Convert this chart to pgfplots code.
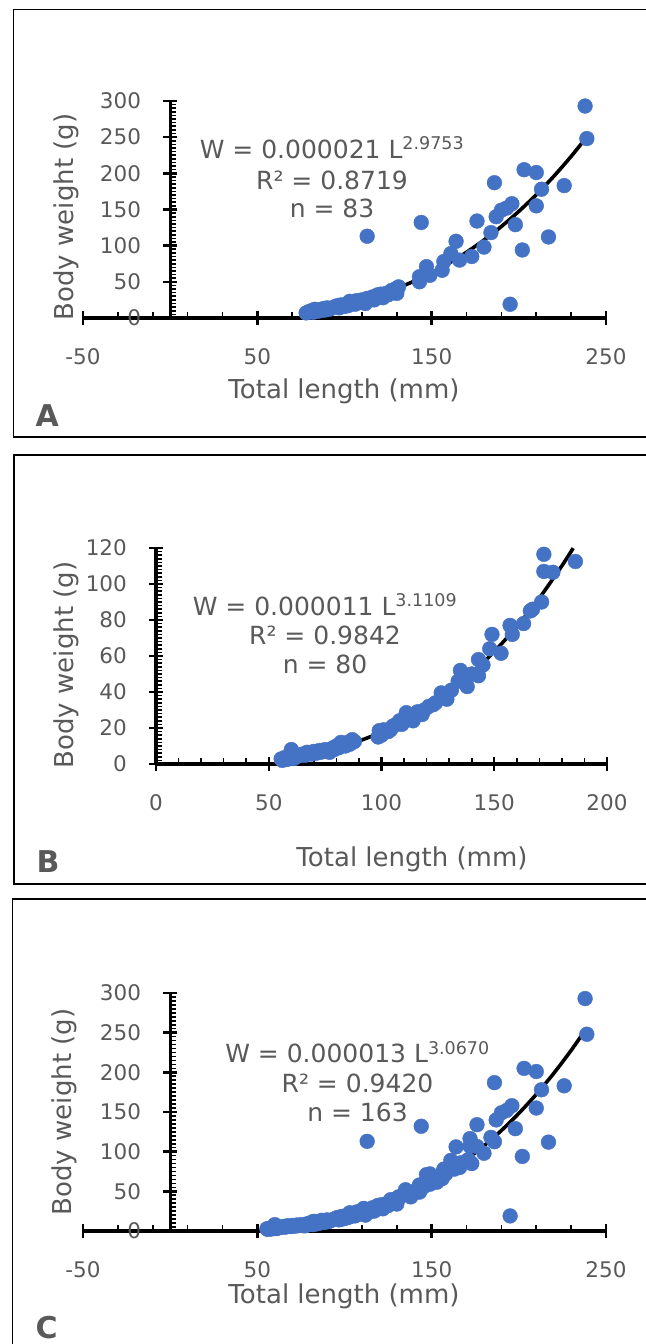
\documentclass[border=0pt]{standalone}
\usepackage{pgfplots}
\pgfplotsset{compat=1.18}
\usepackage{pgfplotstable}
\usepackage{fontspec}
\setmainfont{DejaVu Sans}

\definecolor{xlblue}{HTML}{4472C4}
\definecolor{txtgray}{HTML}{595959}

\newcommand\tickfont{\fontsize{21.5bp}{26bp}\selectfont}
\newcommand\labfont{\fontsize{26bp}{31bp}\selectfont}
\newcommand\eqfont{\fontsize{25bp}{30bp}\selectfont}
\newcommand\letfont{\fontsize{30bp}{36bp}\selectfont\bfseries}

% group A (n = 83)
\pgfplotstableread{
x y
238 293
239 248
203 205
210 201
226 183
186 187
213 178
196 158
193 152
190 149
187 140
210 155
198 129
176 134
184 118
217 112
202 94
195 19
144 132
113 113
164 106
180 98
173 85
166 80
161 89
156 66
157 78
147 71
143 50
143 57
149 59
131 43
130 34
126 36
119 32
112 20
113 27
103 23
100 16
96 17
88 13
83 12
78 7
79 8
80 9
81 10
82 8
84 9
85 11
86 10
87 12
89 11
90 14
91 12
92 13
94 15
95 16
97 14
98 18
99 17
101 19
102 17
104 20
105 22
106 19
107 24
108 21
109 23
110 25
111 22
114 27
115 26
116 29
117 25
118 30
120 31
121 33
122 28
124 34
125 32
127 38
128 35
129 40
}\dataA

% group B (n = 80)
\pgfplotstableread{
x y
172 116.5
172 107
176 106.5
186 112.5
171 90
166 85
163 78
157 77
158 72
149 72
148 64
153 61.5
143 58
143 49
135 52
134 46
138 43
140 50
129 36
126.5 39.5
123 33
118 27.5
112.5 25
111 28.5
106.5 22
104 19
99 18.5
98.5 15
87 13.5
86 11
82 12
78.5 9
77 6.5
72.5 7.5
67 6.5
60 8
61 3
55.5 2.8
56 2
57 3.5
58 2.5
59 4
61 5
62 4
63 4.5
64 5
65 5.5
66 4.8
68 6
69 5.5
70 7
71 6
73 6.5
74 7
75 8
76 7
79 8
80 10
81 9
83 11
84 10
85 12
88 12.5
100 16
101 19
103 18
105 21
108 24
109 22
113 27
114 24
116 29
119 30
121 32
124 34
127 37
131 41
136 47
145 55
167 86
}\dataB

\pgfplotsset{
  panel/.style={
    scale only axis,
    axis lines*=middle,
    enlargelimits=false,
    clip=false,
    axis line style={line width=3.3bp, black},
    tick align=center,
    major tick length=14bp,
    minor tick length=6bp,
    major tick style={line width=2.4bp, black},
    minor tick style={line width=1.6bp, black},
    minor x tick style={yshift=3bp},
    minor y tick style={xshift=3bp},
    hide obscured x ticks=false,
    hide obscured y ticks=false,
    tick label style={font=\tickfont, text=txtgray, inner sep=0pt},
    xticklabel style={anchor=center, yshift=-32bp},
    yticklabel style={anchor=east, xshift=-22bp},
  },
  pts/.style={only marks, mark=*, mark size=7.4bp,
    mark options={fill=xlblue, draw=xlblue, line width=0.4bp}},
  fit/.style={black, line width=3.6bp, smooth, no marks},
}

\begin{document}
\begin{tikzpicture}[x=1bp, y=1bp]
\useasboundingbox (0,0) rectangle (646,1344);
\clip (0,0) rectangle (646,1344);

% panel frames
\draw[line width=1.5bp, black] (13.5,907) rectangle (700,1334.5);
\draw[line width=1.5bp, black] (14,460) rectangle (700,889);
\draw[line width=1.5bp, black] (12.5,-50) rectangle (700,445);

% ---------- A ----------
\begin{axis}[panel, at={(83bp,1026bp)}, anchor=south west,
  width=523bp, height=217bp,
  xmin=-50, xmax=250, ymin=0, ymax=300,
  xtick={-50,50,150,250}, xticklabels={-50,50,150,250},
  ytick={0,50,100,150,200,250,300}, yticklabels={0,50,100,150,200,250,300},
  minor x tick num=4, minor y tick num=9]
  \addplot[pts] table[x=x, y=y] {\dataA};
  \addplot[fit] coordinates {
    (78,8.95) (90,13.70) (100,18.74) (110,24.89) (120,32.24) (130,40.91)
    (140,51.00) (150,62.63) (160,75.89) (170,90.89) (180,107.73)
    (190,126.53) (200,147.40) (210,170.43) (220,195.73) (230,223.39)
    (239,250.41)};
\end{axis}
\node[font=\eqfont, text=txtgray, anchor=base] at (332,1185.7) {W = 0.000021 L\textsuperscript{2.9753}};
\node[font=\eqfont, text=txtgray, anchor=base] at (332,1154.7) {R² = 0.8719};
\node[font=\eqfont, text=txtgray, anchor=base] at (332,1126.7) {n = 83};
\node[font=\labfont, text=txtgray, anchor=base] at (344,945) {Total length (mm)};
\node[font=\labfont, text=txtgray, rotate=90] at (66,1127) {Body weight (g)};
\node[font=\letfont, text=txtgray, anchor=base west, inner sep=0pt] at (35.5,917) {A};

% ---------- B ----------
\begin{axis}[panel, at={(156bp,580bp)}, anchor=south west,
  width=451bp, height=216bp,
  xmin=0, xmax=200, ymin=0, ymax=120,
  xtick={0,50,100,150,200}, xticklabels={0,50,100,150,200},
  ytick={0,20,40,60,80,100,120}, yticklabels={0,20,40,60,80,100,120},
  minor x tick num=4, minor y tick num=9]
  \addplot[pts] table[x=x, y=y] {\dataB};
  \addplot[fit] coordinates {
    (55,2.8) (60,3.61) (70,5.83) (80,8.84) (90,12.75) (100,17.69)
    (110,23.80) (120,31.19) (130,40.01) (140,50.39) (150,62.45)
    (160,76.34) (170,92.19) (180,110.12) (185,119.9)};
\end{axis}
\node[font=\eqfont, text=txtgray, anchor=base] at (325,728) {W = 0.000011 L\textsuperscript{3.1109}};
\node[font=\eqfont, text=txtgray, anchor=base] at (325,699) {R² = 0.9842};
\node[font=\eqfont, text=txtgray, anchor=base] at (325,670) {n = 80};
\node[font=\labfont, text=txtgray, anchor=base] at (412,477) {Total length (mm)};
\node[font=\labfont, text=txtgray, rotate=90] at (66,679) {Body weight (g)};
\node[font=\letfont, text=txtgray, anchor=base west, inner sep=0pt] at (36.5,471) {B};

% ---------- C ----------
\begin{axis}[panel, at={(83bp,113bp)}, anchor=south west,
  width=523bp, height=238bp,
  xmin=-50, xmax=250, ymin=0, ymax=300,
  xtick={-50,50,150,250}, xticklabels={-50,50,150,250},
  ytick={0,50,100,150,200,250,300}, yticklabels={0,50,100,150,200,250,300},
  minor x tick num=4, minor y tick num=9]
  \addplot[pts] table[x=x, y=y] {\dataA};
  \addplot[pts] table[x=x, y=y] {\dataB};
  \addplot[fit] coordinates {
    (55,2.83) (60,3.69) (70,5.93) (80,8.93) (90,12.81) (100,17.70)
    (110,23.71) (120,30.96) (130,39.57) (140,49.67) (150,61.38)
    (160,74.81) (170,90.10) (180,107.36) (190,126.72) (200,148.33)
    (210,172.26) (220,198.68) (230,227.70) (239,256.14)};
\end{axis}
\node[font=\eqfont, text=txtgray, anchor=base] at (357.5,281) {W = 0.000013 L\textsuperscript{3.0670}};
\node[font=\eqfont, text=txtgray, anchor=base] at (357.5,251) {R² = 0.9420};
\node[font=\eqfont, text=txtgray, anchor=base] at (357.5,222) {n = 163};
\node[font=\labfont, text=txtgray, anchor=base] at (344,40) {Total length (mm)};
\node[font=\labfont, text=txtgray, rotate=90] at (64,232) {Body weight (g)};
\node[font=\letfont, text=txtgray, anchor=base west, inner sep=0pt] at (35.5,5.5) {C};
\end{tikzpicture}
\end{document}
